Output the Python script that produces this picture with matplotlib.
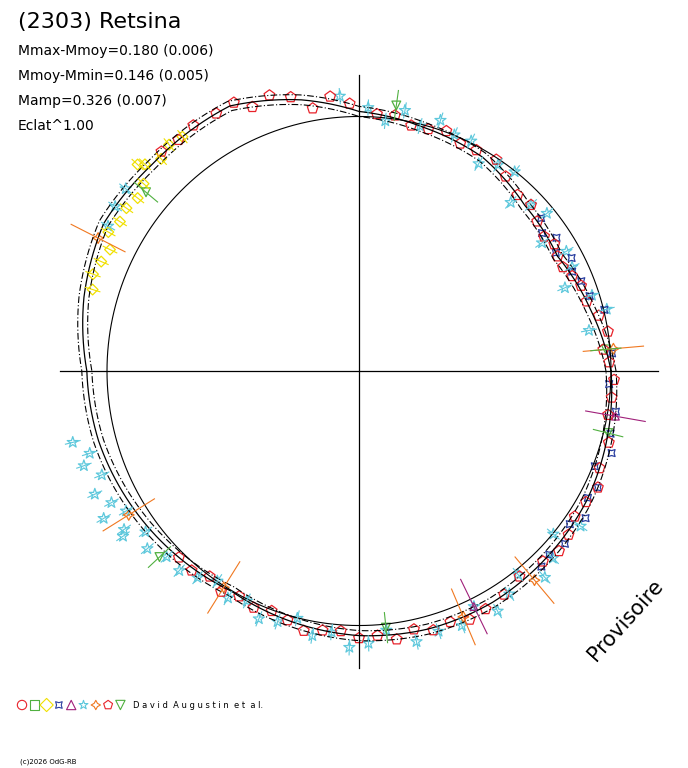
import numpy as np
import matplotlib
matplotlib.use('Agg')
import matplotlib.pyplot as plt

# profil du lightcurve polaire (angle en degres, rayon relatif)
curve_ang = [0, 15, 30, 45, 60, 75, 90, 102, 116, 135, 150, 165, 180, 195, 210, 225, 240, 255, 270, 285, 300, 315, 330, 345, 360]
curve_r = [1.00, 0.95, 0.91, 0.93, 0.98, 1.00, 1.03, 1.10, 1.17, 1.16, 1.17, 1.13, 1.08, 1.07, 1.05, 1.03, 1.01, 1.03, 1.05, 1.06, 1.06, 1.05, 1.04, 1.02, 1.00]

# points par groupe: angles et residus
red_ang = [92, 96, 100, 104, 108, 112, 115, 119, 124, 128, 132, 86, 82, 78, 74, 70, 66, 62, 57, 53, 48, 44, 40, 36, 33, 30, 27, 24, 21, 17, 13, 9, 5, 2,
           -2, -6, -10, -16, -22, -26, -30, -34, -38, -42, -46, -52, -57, -62, -66, -70, -74, -78, -82, -86, -90, -94, -98, -102, -106,
           -110, -114, -118, -122, -126, -130, -134]
red_res = [0.02, 0.03, -0.03, 0.01, 0.02, -0.02, 0.01, 0.0, 0.01, 0.0, 0.01, 0.0, 0.01, -0.01, 0.0, 0.02, 0.0, 0.01, 0.03, 0.01, 0.0, 0.02, 0.0,
           -0.01, 0.01, 0.0, -0.01, 0.0, 0.01, 0.0, 0.02, 0.03, -0.01, 0.0, 0.01, 0.0, -0.01, 0.01, 0.0, 0.02, 0.0, -0.01, 0.01, 0.02, 0.0,
           -0.02, 0.0, 0.01, 0.02, 0.0, 0.01, -0.01, 0.02, 0.0, 0.01, -0.01, 0.0, 0.02, 0.0, -0.01, 0.01, 0.0, 0.02, -0.01, 0.01, 0.0]
cyan_ang = [94, 88, 84, 80, 76, 72, 68, 64, 60, 56, 52, 48, 44, 40, 35, 30, 26, 22, 18, 14, 10, -35, -40, -44, -48, -52, -56, -60, -64, -68,
            -73, -78, -84, -88, -92, -96, -100, -104, -108, -112, -116, -120, -124, -128, -132, -136, -140, -143, -146, -149, -152,
            -155, -158, -161, -163, -166, -150, -145, 146, 150, 142]
cyan_res = [0.04, 0.02, -0.02, 0.04, 0.0, 0.05, 0.02, 0.03, -0.03, 0.02, 0.05, -0.04, 0.02, 0.05, -0.03, 0.04, 0.02, -0.05, 0.03, 0.06, -0.04,
            0.03, -0.04, 0.02, 0.05, -0.03, 0.01, 0.04, -0.02, 0.03, 0.02, 0.04, -0.02, 0.03, 0.05, 0.0, 0.03, -0.02, 0.02, 0.04, 0.0, 0.03,
            -0.01, 0.02, 0.04, 0.03, 0.06, 0.02, 0.08, 0.03, 0.06, 0.1, 0.04, 0.09, 0.05, 0.1, 0.12, 0.1, 0.0, -0.02, 0.01]
blue_ang = [40, 37, 34, 31, 28, 25, 22, 18, 14, 4, -3, -9, -14, -18, -22, -26, -29, -33, -36, -40, -44, -47]
blue_res = [0.02, -0.01, 0.03, 0.0, 0.04, 0.01, 0.02, 0.02, 0.05, 0.02, -0.01, 0.02, 0.01, 0.03, -0.02, 0.02, 0.0, 0.03, -0.01, 0.02, 0.0, 0.01]
yellow_ang = [127, 130, 133, 136, 139, 142, 145, 148, 151, 154, 157, 160, 163, 137]
yellow_res = [0.0, 0.01, -0.01, 0.02, -0.03, -0.05, -0.04, -0.05, -0.03, -0.06, -0.04, -0.02, -0.03, 0.04]
orange_ang = [5, 153, -148, -50, -67, -122]
orange_res = [0.03, 0.0, 0.03, 0.03, 0.0, 0.0]
purple_ang = [-10, -64]
purple_res = [0.02, -0.02]
green_ang = [82, 140, -137, -84, -14, 5]
green_res = [0.05, -0.06, 0.05, -0.03, 0.0, 0.0]

PX = 252.0
fig = plt.figure(figsize=(6.88, 7.68), dpi=100)
ax = fig.add_axes([0, 0, 1, 1])
ax.set_xlim(-359 / PX, (688 - 359) / PX)
ax.set_ylim(-(768 - 371) / PX, 371 / PX)
ax.axis('off')

def rayon(a):
    return np.interp(np.mod(a, 360), curve_ang, curve_r)

t = np.linspace(0, 360, 721)
r = rayon(t)
tr = np.radians(t)
ax.plot(np.cos(tr), np.sin(tr) * 1.01, color='black', lw=0.8)
ax.plot(r * np.cos(tr), r * np.sin(tr), color='black', lw=0.9)
for d in (-0.02, 0.02):
    ax.plot((r + d) * np.cos(tr), (r + d) * np.sin(tr), color='black', lw=0.8, ls=(0, (6, 2, 1, 2)))
ax.plot([-299 / PX, 299 / PX], [0, 0], color='black', lw=0.9)
ax.plot([0, 0], [-297 / PX, 296 / PX], color='black', lw=0.9)

def groupe(angs, res, color, marker, size, err=0.0):
    a = np.array(angs, dtype=float)
    rr = rayon(a) + np.array(res)
    ar = np.radians(a)
    x, y = rr * np.cos(ar), rr * np.sin(ar)
    if err:
        for xi, yi, ai in zip(x, y, ar):
            ax.plot([xi - err * np.cos(ai), xi + err * np.cos(ai)], [yi - err * np.sin(ai), yi + err * np.sin(ai)],
                    color=color, lw=0.8)
    ax.scatter(x, y, s=size, marker=marker, facecolors='none', edgecolors=color, linewidths=0.9)

groupe(cyan_ang, cyan_res, '#5ec8dc', '*', 70, 0.03)
groupe(blue_ang, blue_res, '#2a3ea0', (4, 1, 45), 50)
groupe(yellow_ang, yellow_res, '#f0e000', 'D', 30, 0.03)
groupe(orange_ang, orange_res, '#f07820', (4, 1, 0), 60, 0.12)
groupe(purple_ang, purple_res, '#a0207a', '^', 30, 0.12)
groupe(green_ang, green_res, '#50b040', 'v', 40, 0.06)
groupe(red_ang, red_res, '#e8222a', 'p', 65)

fig.text(18 / 688, 1 - 22 / 768, '(2303) Retsina', fontsize=16, va='center', ha='left')
infos = ['Mmax-Mmoy=0.180 (0.006)', 'Mmoy-Mmin=0.146 (0.005)', 'Mamp=0.326 (0.007)', 'Eclat^1.00']
for i, s in enumerate(infos):
    fig.text(18 / 688, 1 - (51 + 25 * i) / 768, s, fontsize=10, va='center', ha='left')
fig.text(626 / 688, 1 - 620 / 768, 'Provisoire', fontsize=15, rotation=48, ha='center', va='center')

leg = [('o', '#e8222a'), ('s', '#50b040'), ('D', '#f0e000'), ((4, 1, 45), '#2a3ea0'), ('^', '#a0207a'),
       ('*', '#5ec8dc'), ((4, 1, 0), '#f07820'), ('p', '#e8222a'), ('v', '#50b040')]
for i, (m, c) in enumerate(leg):
    ax.scatter([(22 + 12.3 * i - 359) / PX], [(371 - 705) / PX], s=45, marker=m, facecolors='none', edgecolors=c, linewidths=0.8)
fig.text(133 / 688, 1 - 705 / 768, 'D a v i d  A u g u s t i n  e t  a l.', fontsize=6, va='center')
fig.text(20 / 688, 1 - 762 / 768, '(c)2026 OdG-RB', fontsize=5, va='center')

fig.savefig('out.png', dpi=100)
